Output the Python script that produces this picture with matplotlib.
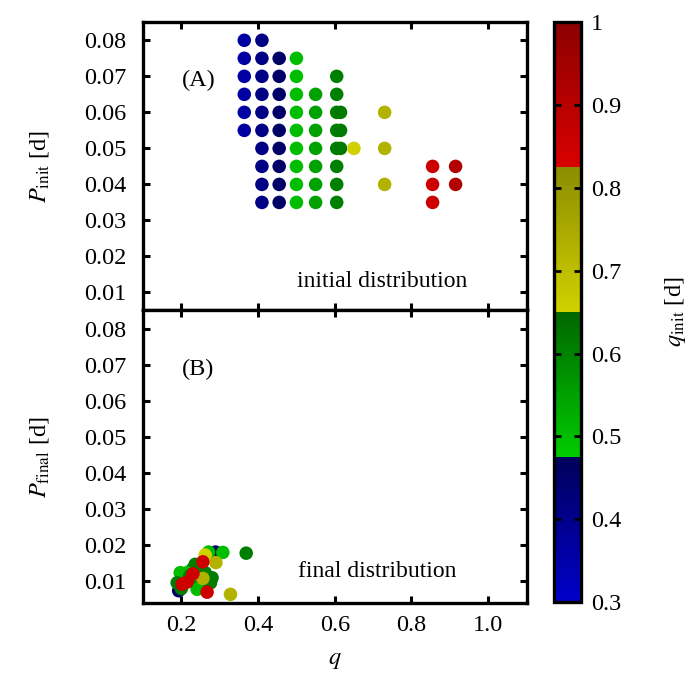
import numpy as np
import matplotlib
matplotlib.use("Agg")
import matplotlib.pyplot as plt
from matplotlib.colors import LinearSegmentedColormap, Normalize
from matplotlib.ticker import FuncFormatter

plt.rcParams['font.family'] = ['Liberation Serif', 'DejaVu Serif']
plt.rcParams['mathtext.fontset'] = 'stix'

# initial distribution: one column per q value, P values
init_cols_q = [0.364, 0.41, 0.455, 0.50, 0.55, 0.605, 0.615, 0.65, 0.73, 0.855, 0.915]
init_cols_p = [
    [0.080, 0.075, 0.070, 0.065, 0.060, 0.055],
    [0.080, 0.075, 0.070, 0.065, 0.060, 0.055, 0.050, 0.045, 0.040, 0.035],
    [0.075, 0.070, 0.065, 0.060, 0.055, 0.050, 0.045, 0.040, 0.035],
    [0.075, 0.070, 0.065, 0.060, 0.055, 0.050, 0.045, 0.040, 0.035],
    [0.065, 0.060, 0.055, 0.050, 0.045, 0.040, 0.035],
    [0.070, 0.065, 0.060, 0.055, 0.050, 0.045, 0.040, 0.035],
    [0.060, 0.055, 0.050],
    [0.050],
    [0.060, 0.050, 0.040],
    [0.045, 0.040, 0.035],
    [0.045, 0.040],
]

# final distribution (q_final, P_final, q_init for colour)
final_q = [0.289, 0.193, 0.369, 0.308, 0.271, 0.228, 0.236, 0.215, 0.197, 0.262,
           0.276, 0.280, 0.189, 0.245, 0.241, 0.200, 0.222, 0.262, 0.290, 0.256,
           0.328, 0.256, 0.230, 0.202, 0.215, 0.267]
final_p = [0.0181, 0.0074, 0.0178, 0.0180, 0.0181, 0.0133, 0.0147, 0.0124, 0.0124, 0.0124,
           0.0096, 0.0110, 0.0096, 0.0087, 0.0078, 0.0080, 0.0115, 0.0173, 0.0152, 0.0108,
           0.0064, 0.0154, 0.0121, 0.0092, 0.0098, 0.0070]
final_qinit = [0.455, 0.455, 0.61, 0.50, 0.50, 0.61, 0.61, 0.50, 0.50, 0.61,
               0.61, 0.61, 0.61, 0.61, 0.50, 0.61, 0.61, 0.65, 0.73, 0.73,
               0.73, 0.855, 0.855, 0.855, 0.855, 0.855]

x_ticks = [0.2, 0.4, 0.6, 0.8, 1.0]
y_ticks = [0.01, 0.02, 0.03, 0.04, 0.05, 0.06, 0.07, 0.08]
cb_ticks = [0.3, 0.4, 0.5, 0.6, 0.7, 0.8, 0.9, 1.0]

cmap = LinearSegmentedColormap.from_list("qinit", [
    (0.0, (0.0, 0.0, 0.80)), (0.25, (0.0, 0.0, 0.35)),
    (0.25, (0.0, 0.80, 0.0)), (0.5, (0.0, 0.40, 0.0)),
    (0.5, (0.82, 0.82, 0.0)), (0.75, (0.55, 0.55, 0.0)),
    (0.75, (0.85, 0.0, 0.0)), (1.0, (0.55, 0.0, 0.0)),
], N=512)
norm = Normalize(vmin=0.3, vmax=1.0)

fig = plt.figure(figsize=(6.91, 6.86), dpi=100)
ax1 = fig.add_axes([0.207, 0.5474, 0.555, 0.4201])
ax2 = fig.add_axes([0.207, 0.121, 0.555, 0.4264])
cax = fig.add_axes([0.8017, 0.1224, 0.039, 0.8451])

fs = 17.5

pq, pp = [], []
for q, ps in zip(init_cols_q, init_cols_p):
    for p in ps:
        pq.append(q)
        pp.append(p)
ax1.scatter(pq, pp, c=pq, cmap=cmap, norm=norm, s=95, linewidths=0, zorder=3)
ax2.scatter(final_q, final_p, c=final_qinit, cmap=cmap, norm=norm, s=95, linewidths=0, zorder=3)

for ax in (ax1, ax2):
    ax.set_xlim(0.1, 1.1)
    ax.set_xticks(x_ticks)
    ax.set_yticks(y_ticks)
    ax.tick_params(direction='in', top=True, right=True, length=5, width=2.2,
                   labelsize=fs, pad=12)
    ax.tick_params(axis='x', pad=9)
    for sp in ax.spines.values():
        sp.set_linewidth(2.4)
    ax.yaxis.set_major_formatter(FuncFormatter(lambda v, _: "%.2f" % v))
ax1.set_ylim(0.005, 0.085)
ax2.set_ylim(0.004, 0.085)
ax1.tick_params(labelbottom=False)
ax2.xaxis.set_major_formatter(FuncFormatter(lambda v, _: "%.1f" % v))

ax1.set_ylabel(r'$P_{\rm init}$ [d]', fontsize=fs)
ax2.set_ylabel(r'$P_{\rm final}$ [d]', fontsize=fs)
ax1.yaxis.set_label_coords(-0.24, 0.5)
ax2.yaxis.set_label_coords(-0.24, 0.5)
ax2.set_xlabel(r'$q$', fontsize=fs)
ax2.xaxis.set_label_coords(0.5, -0.16)

ax1.text(0.2, 0.0672, '(A)', fontsize=fs, va='baseline')
ax2.text(0.2, 0.0672, '(B)', fontsize=fs, va='baseline')
ax1.text(0.502, 0.0115, 'initial distribution', fontsize=17, va='baseline')
ax2.text(0.505, 0.0111, 'final distribution', fontsize=17, va='baseline')

sm = matplotlib.cm.ScalarMappable(norm=norm, cmap=cmap)
cb = fig.colorbar(sm, cax=cax, ticks=cb_ticks)
cb.outline.set_linewidth(2.4)
cb.ax.tick_params(direction='in', left=True, right=True, length=5, width=2,
                  labelsize=fs, pad=7)
cb.ax.yaxis.set_major_formatter(FuncFormatter(lambda v, _: "1" if abs(v - 1) < 1e-9 else "%.1f" % v))
cb.set_label(r'$q_{\rm init}$ [d]', fontsize=fs, labelpad=30)

fig.savefig("out.png", dpi=100)
